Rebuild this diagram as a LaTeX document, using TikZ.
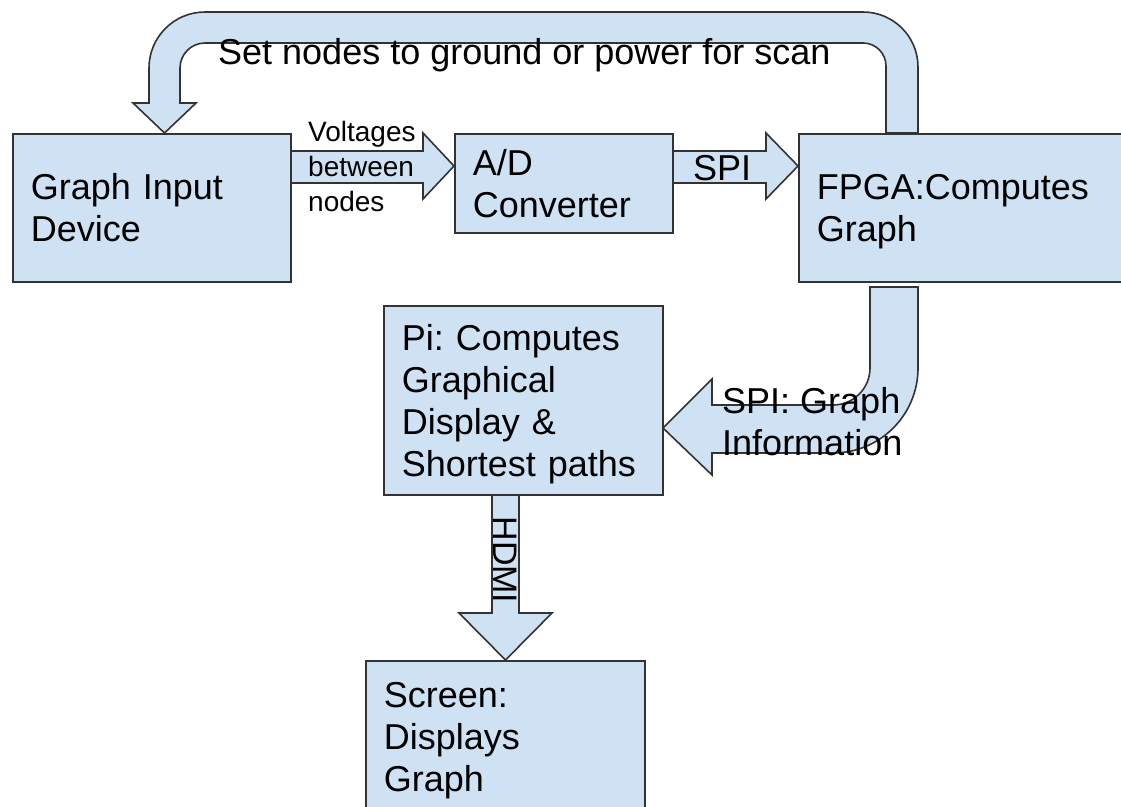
\documentclass[tikz,border=0pt]{standalone}
\usepackage{fontspec}
\setmainfont{Liberation Sans}
\usetikzlibrary{positioning,calc}
\usepackage{xcolor}
\definecolor{boxblue}{RGB}{207,226,243}
\definecolor{edgegray}{RGB}{51,51,51}
\frenchspacing

\begin{document}
\begin{tikzpicture}[x=1pt, y=-1pt,
    block/.style={rectangle, draw=edgegray, fill=boxblue, line width=1.6pt,
                  anchor=north west, align=left, inner xsep=18pt, inner ysep=0pt,
                  font=\fontsize{36}{42}\selectfont},
    fatarrow/.style={draw=edgegray, fill=boxblue, line width=1.6pt, line join=miter},
    lbl/.style={font=\fontsize{36}{42}\selectfont, align=left, inner sep=0pt}
]
\useasboundingbox (0,0) rectangle (1121,806);
\clip (0,0) rectangle (1121,806);

% Feedback loop from the FPGA back to the input device
\draw[fatarrow] (918,133) -- (918,67) .. controls (918,36.6) and (893.4,12) .. (863,12)
    -- (205,12) .. controls (174.1,12) and (149,37.1) .. (149,68)
    -- (149,103) -- (133,103) -- (164.5,133) -- (196,103) -- (180,103)
    -- (180,68) .. controls (180,54.2) and (191.2,43) .. (205,43)
    -- (863,43) .. controls (875.7,43) and (886,53.3) .. (886,66)
    -- (886,133) -- cycle;

% FPGA down to the Pi
\draw[fatarrow] (918,287) -- (918,368) .. controls (918,415) and (880,453) .. (833,453)
    -- (712,453) -- (712,475) -- (663,428) -- (712,379) -- (712,405)
    -- (833,405) .. controls (853.4,405) and (870,388.4) .. (870,368)
    -- (870,287) -- cycle;

% Straight links
\draw[fatarrow] (290,151) -- (423,151) -- (423,133) -- (454,166) -- (423,199) -- (423,183) -- (290,183) -- cycle;
\draw[fatarrow] (672,151) -- (766,151) -- (766,133) -- (798,166) -- (766,199) -- (766,183) -- (672,183) -- cycle;
\draw[fatarrow] (492,494) -- (492,613) -- (459,613) -- (505.5,660) -- (552,613) -- (519,613) -- (519,494) -- cycle;

\node[block, text width=242pt, minimum height=148pt] (input) at (12,133) {Graph Input\\Device};
\node[block, text width=182pt, minimum height=99pt] (adc) at (454,133) {A/D\\Converter};
\node[block, text width=294pt, minimum height=148pt] (fpga) at (798,133) {FPGA:Computes\\\smash{Graph}};
\node[block, text width=243pt, minimum height=189pt] (pi) at (383,305) {Pi: Computes\\Graphical\\Display \&\\\smash{Shortest paths}};
\node[block, text width=243pt, minimum height=152pt] (screen) at (365,660) {Screen:\\Displays\\\smash{Graph}};

\node[lbl, anchor=base west] (scan) at (218,64) {Set nodes to ground or power for scan};
\node[lbl, anchor=west, font=\fontsize{28}{35}\selectfont] (volt) at (308,166) {Voltages\\between\\nodes};
\node[lbl, anchor=base west] (spi) at (693,180) {SPI};
\node[lbl, anchor=west] (spigraph) at (722,422) {SPI: Graph\\Information};
\node[lbl, rotate=-90, font=\fontsize{34}{40}\selectfont] (hdmi) at (505.5,560) {HDMI};

\end{tikzpicture}
\end{document}
